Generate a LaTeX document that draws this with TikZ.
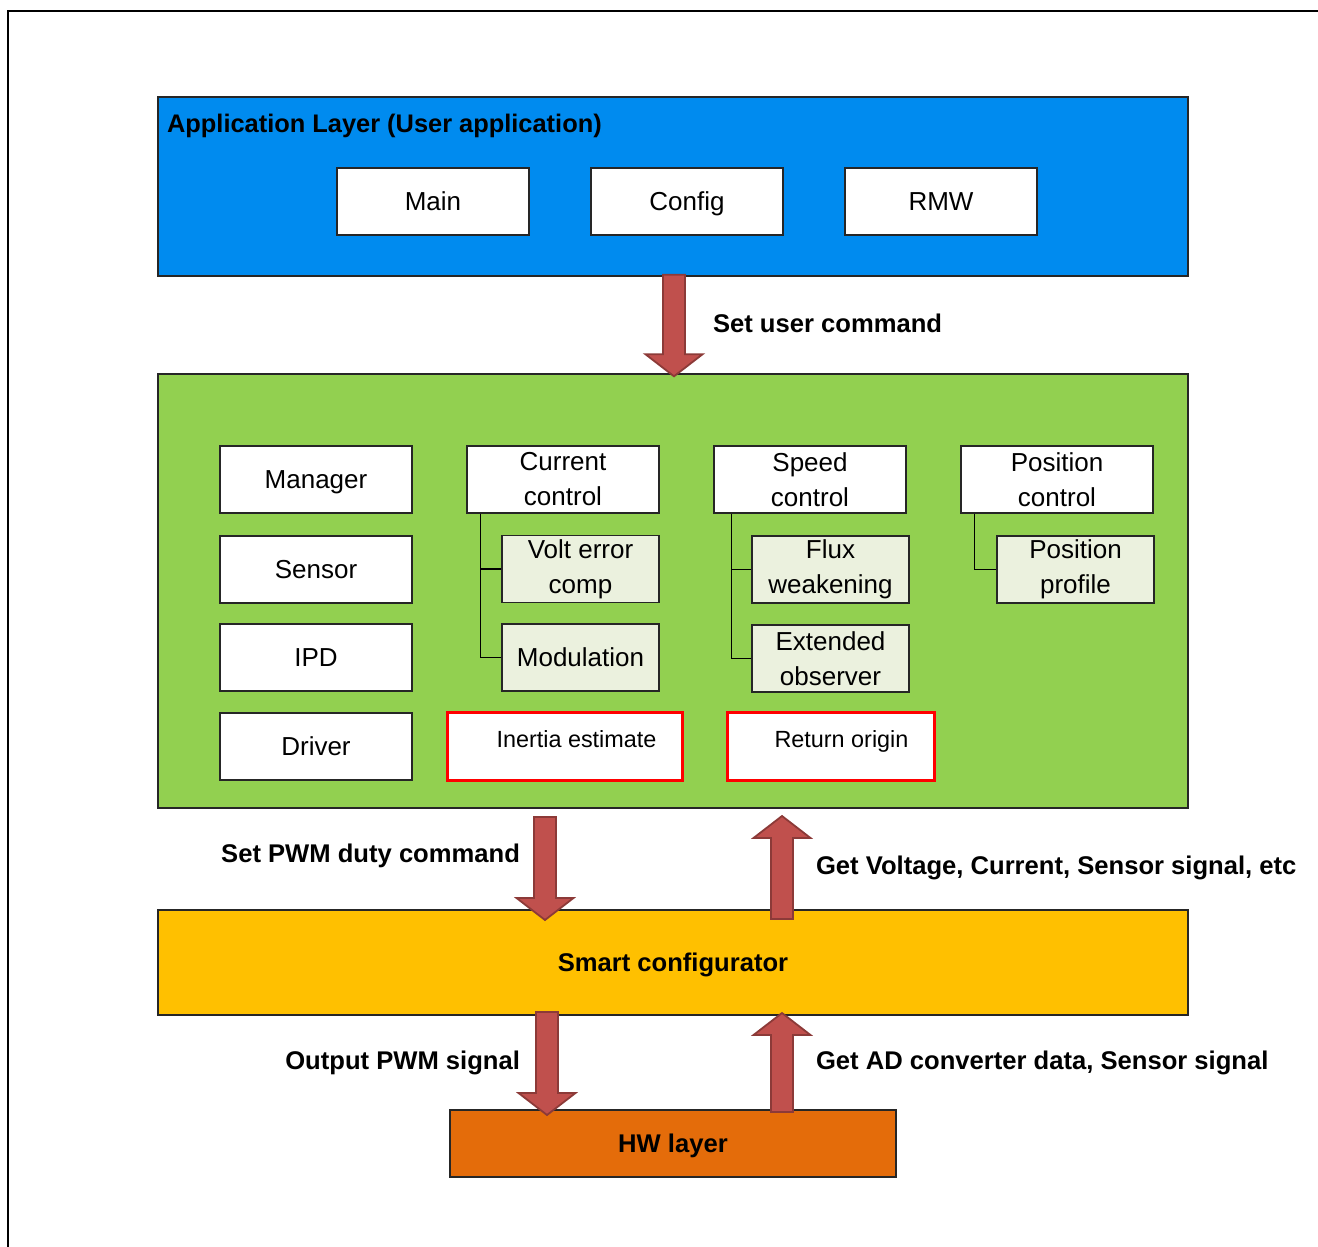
\documentclass[tikz,border=0pt]{standalone}
\usepackage{fontspec}
\setmainfont{Liberation Sans}
\usetikzlibrary{calc}

\definecolor{appblue}{HTML}{008BEF}
\definecolor{midgreen}{HTML}{92D050}
\definecolor{smartyellow}{HTML}{FFC000}
\definecolor{hworange}{HTML}{E46C0A}
\definecolor{subfill}{HTML}{EBF1DE}
\definecolor{arrowred}{HTML}{C0504D}
\definecolor{arrowdark}{HTML}{8C3A38}

\tikzset{
  layer/.style={draw=black!85, line width=0.7pt, inner sep=0pt, minimum width=515pt},
  box/.style={draw=black!85, line width=0.7pt, fill=white, minimum width=96pt, minimum height=33.5pt,
              inner sep=0pt, align=center, font=\fontsize{13}{17.5}\selectfont},
  onebox/.style={box, text height=9.5pt, text depth=0.5pt},
  subbox/.style={box, fill=subfill, minimum width=78.5pt},
  redbox/.style={draw=red, line width=1.5pt, fill=white, minimum height=34pt, inner sep=0pt},
  fat/.style={draw=arrowdark, line width=0.9pt, fill=arrowred, line join=miter},
  lbl/.style={font=\bfseries\fontsize{12.8}{15}\selectfont}
}

% fat block arrow: #1 start of shaft, #2 tip, #3 = 1 down, -1 up
\newcommand{\fatarrow}[3]{
\draw [fat] ($(#1)+(-11,0)$) -- ($(#2)+(-11,-22*#3)$) -- ($(#2)+(-28.5,-22*#3)$) -- (#2)
  -- ($(#2)+(28.5,-22*#3)$) -- ($(#2)+(11,-22*#3)$) -- ($(#1)+(11,0)$) -- cycle;
}

\begin{document}
\begin{tikzpicture}[x=0.5pt,y=-0.5pt]
\useasboundingbox (0,0) rectangle (1318,1247);
\draw [line width=1pt] (8,1250) -- (8,11) -- (1320,11);

% layers
\node [layer, fill=appblue, minimum height=89.5pt] (app) at (673,186.5) {};
\node [anchor=west, font=\bfseries\fontsize{12.7}{15}\selectfont] (apptitle) at (160,126) {Application Layer (User application)};
\node [layer, fill=midgreen, minimum height=217pt] (mid) at (673,591) {};
\node [layer, fill=smartyellow, minimum height=52.5pt] (smart) at (673,962.5) {};
\node [lbl] (smarttxt) at (673,965) {Smart configurator};
\node [layer, fill=hworange, minimum width=223pt, minimum height=33.5pt] (hw) at (673,1143.5) {};
\node [lbl] (hwtxt) at (673,1146) {HW layer};

% application blocks
\node [onebox] (main) at (433,201.5) {Main};
\node [onebox] (config) at (687,201.5) {Config};
\node [onebox] (rmw) at (941,201.5) {RMW};

% middleware blocks
\node [onebox] (manager) at (316,479.5) {Manager};
\node [onebox] (sensor) at (316,569.5) {Sensor};
\node [onebox] (ipd) at (316,657.5) {IPD};
\node [onebox] (driver) at (316,746.5) {Driver};

\node [box] (curctrl) at (563,479.5) {Current\\control};
\node [subbox] (volterr) at (580.5,569) {Volt error\\comp};
\node [onebox, subbox] (modu) at (580.5,657.5) {Modulation};

\node [box] (spdctrl) at (810,479.5) {Speed\\control};
\node [subbox] (flux) at (830.5,569.5) {Flux\\weakening};
\node [subbox] (extobs) at (830.5,658.5) {Extended\\observer};

\node [box] (posctrl) at (1057,479.5) {Position\\control};
\node [subbox] (posprof) at (1075.5,569.5) {Position\\profile};

\draw [line width=0.7pt] ($(curctrl.south west)+(14,0)$) |- (volterr.west);
\draw [line width=0.7pt] ($(curctrl.south west)+(14,0)$) |- (modu.west);
\draw [line width=0.7pt] ($(spdctrl.south west)+(18,0)$) |- (flux.west);
\draw [line width=0.7pt] ($(spdctrl.south west)+(18,0)$) |- (extobs.west);
\draw [line width=0.7pt] ($(posctrl.south west)+(14,0)$) |- (posprof.west);

\node [redbox, minimum width=117.5pt] (inertia) at (564.5,746) {};
\node [font=\fontsize{11.7}{14}\selectfont] (inertiatxt) at ($(inertia)+(12,-4)$) {Inertia estimate\strut};
\node [redbox, minimum width=103.5pt] (retorig) at (830.5,746) {};
\node [font=\fontsize{11.7}{14}\selectfont] (retorigtxt) at ($(retorig)+(11,-4)$) {Return origin\strut};

% arrows between layers
\coordinate (cmdtop) at ($(app.south)+(1,-2)$);
\coordinate (cmdtip) at ($(mid.north)+(1,3)$);
\fatarrow{cmdtop}{cmdtip}{1}
\node [anchor=west, lbl] (cmdtxt) at (706,323) {Set user command};

\coordinate (pwmtop) at (545,817);
\coordinate (pwmtip) at (545,920);
\fatarrow{pwmtop}{pwmtip}{1}
\node [anchor=east, lbl] (pwmtxt) at (527,856) {Set PWM duty command};

\coordinate (getbot) at (782,919);
\coordinate (gettip) at (782,816);
\fatarrow{getbot}{gettip}{-1}
\node [anchor=west, lbl] (gettxt) at (809,868) {Get Voltage, Current, Sensor signal, etc};

\coordinate (outtop) at (547,1012);
\coordinate (outtip) at (547,1115);
\fatarrow{outtop}{outtip}{1}
\node [anchor=east, lbl] (outtxt) at (527,1063) {Output PWM signal};

\coordinate (adbot) at (782,1112);
\coordinate (adtip) at (782,1013);
\fatarrow{adbot}{adtip}{-1}
\node [anchor=west, lbl] (adtxt) at (809,1063) {Get AD converter data, Sensor signal};
\end{tikzpicture}
\end{document}
